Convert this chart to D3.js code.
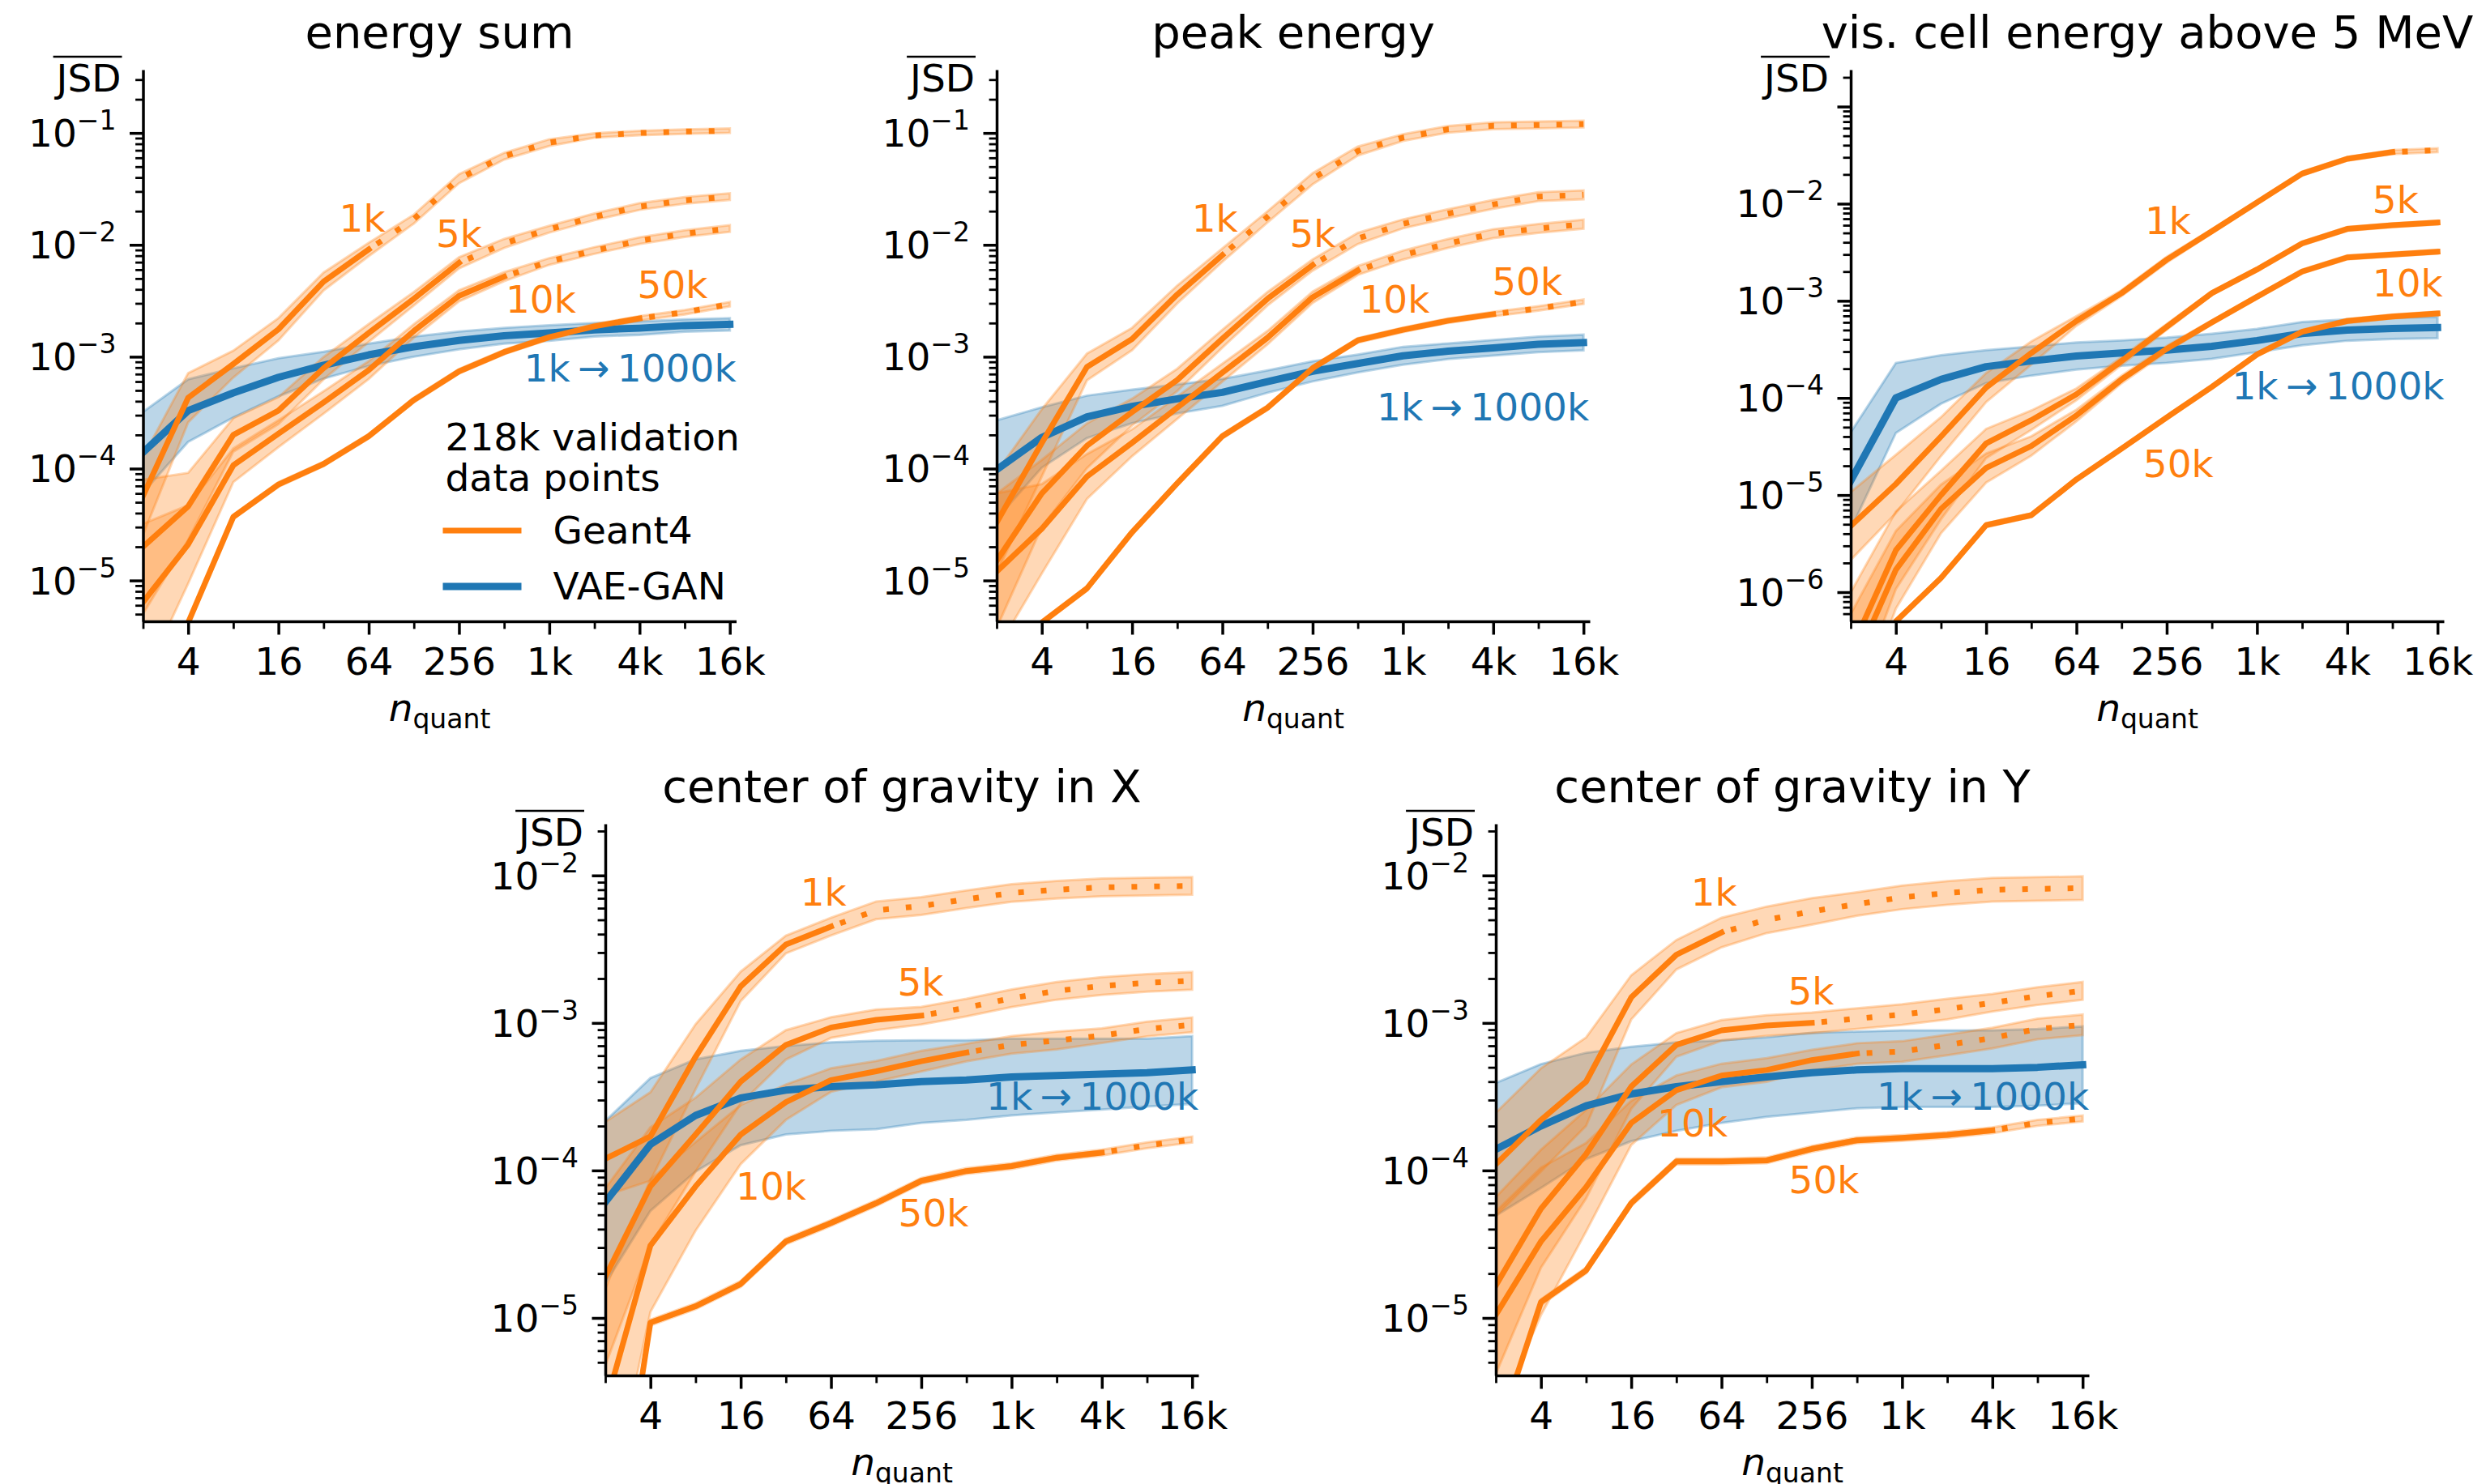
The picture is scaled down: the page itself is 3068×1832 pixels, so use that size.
<!DOCTYPE html>
<html>
<head>
<meta charset="utf-8">
<script src="https://cdn.jsdelivr.net/npm/d3@7"></script>
<style>
  body { margin: 0; background: #fff; }
  svg text { font-family: "DejaVu Sans", sans-serif; }
</style>
</head>
<body>
<script>
// n_quant values, shared by every panel
const nQuant = [2, 4, 8, 16, 32, 64, 128, 256, 512, 1024, 2048, 4096, 8192, 16384];
const xTickValues = [4, 16, 64, 256, 1024, 4096, 16384];
const xTickLabels = ["4", "16", "64", "256", "1k", "4k", "16k"];
const xMinorTicks = [2, 8, 32, 128, 512, 2048, 8192];
const sampleLabels = ["1k", "5k", "10k", "50k"];
const vaeLabel = "1k\u2009\u2192\u20091000k";
const panelTitles = ["energy sum", "peak energy", "vis. cell energy above 5 MeV",
  "center of gravity in X", "center of gravity in Y"];
const legendTitle = ["218k validation", "data points"];
const legendNames = ["Geant4", "VAE-GAN"];

// last n_quant drawn solid, per sample size (dotted beyond)
const solidUpTo = [64, 256, 512, 4096];
const solidUpToCell = [8192, 16384, 16384, 16384];

// y tick exponents (labelled decades)
const yTicksEnergy = [-5, -4, -3, -2, -1];
const yTicksCell = [-6, -5, -4, -3, -2];
const yTicksCog = [-5, -4, -3, -2];

// ---- energy sum : mean JSD and band half-width (decades)
const energySum1k = [5.7e-5, 4.3e-4, 8.6e-4, 1.76e-3, 4.7e-3, 9.1e-3, 1.7e-2, 3.9e-2, 6.2e-2, 8.2e-2, 9.5e-2, 0.100, 0.103, 0.105];
const energySum5k = [2.0e-5, 4.6e-5, 2.0e-4, 3.3e-4, 7.9e-4, 1.63e-3, 3.3e-3, 6.9e-3, 1.03e-2, 1.38e-2, 1.78e-2, 2.2e-2, 2.5e-2, 2.7e-2];
const energySum10k = [6.4e-6, 2.1e-5, 1.07e-4, 2.05e-4, 3.9e-4, 7.6e-4, 1.7e-3, 3.5e-3, 5.2e-3, 7.1e-3, 8.9e-3, 1.09e-2, 1.26e-2, 1.4e-2];
const energySum50k = [8e-7, 4.2e-6, 3.7e-5, 7.2e-5, 1.1e-4, 1.95e-4, 4.1e-4, 7.4e-4, 1.1e-3, 1.5e-3, 1.87e-3, 2.2e-3, 2.5e-3, 2.95e-3];
const energySumVae = [1.4e-4, 3.3e-4, 4.75e-4, 6.55e-4, 8.4e-4, 1.04e-3, 1.23e-3, 1.4e-3, 1.54e-3, 1.63e-3, 1.74e-3, 1.8e-3, 1.9e-3, 1.95e-3];
const energySum1kBand = [0.35, 0.22, 0.12, 0.1, 0.08, 0.06, 0.04, 0.04, 0.03, 0.03, 0.02, 0.02, 0.02, 0.02];
const energySum5kBand = [0.6, 0.3, 0.15, 0.12, 0.1, 0.08, 0.06, 0.05, 0.04, 0.03, 0.03, 0.03, 0.03, 0.03];
const energySum10kBand = [0.7, 0.35, 0.15, 0.12, 0.1, 0.08, 0.06, 0.05, 0.04, 0.03, 0.03, 0.03, 0.03, 0.03];
const energySum50kBand = [0.02, 0.02, 0.02, 0.02, 0.02, 0.02, 0.02, 0.02, 0.02, 0.02, 0.02, 0.02, 0.02, 0.02];
const energySumVaeBand = [0.36, 0.28, 0.22, 0.17, 0.12, 0.1, 0.09, 0.08, 0.07, 0.07, 0.06, 0.06, 0.055, 0.055];

// ---- peak energy
const peakEnergy1k = [3.3e-5, 1.7e-4, 8.1e-4, 1.44e-3, 3.6e-3, 8.1e-3, 1.78e-2, 3.9e-2, 6.9e-2, 9.1e-2, 0.108, 0.116, 0.118, 0.12];
const peakEnergy5k = [1.5e-5, 6.0e-5, 1.6e-4, 3.2e-4, 6.2e-4, 1.45e-3, 3.3e-3, 6.6e-3, 1.14e-2, 1.54e-2, 1.9e-2, 2.3e-2, 2.7e-2, 2.8e-2];
const peakEnergy10k = [1.2e-5, 2.9e-5, 8.5e-5, 1.7e-4, 3.5e-4, 7.2e-4, 1.48e-3, 3.4e-3, 5.9e-3, 8.1e-3, 1.03e-2, 1.26e-2, 1.4e-2, 1.53e-2];
const peakEnergy50k = [1e-6, 4.2e-6, 8.5e-6, 2.7e-5, 7.4e-5, 1.95e-4, 3.5e-4, 7.9e-4, 1.4e-3, 1.74e-3, 2.1e-3, 2.4e-3, 2.7e-3, 3.1e-3];
const peakEnergyVae = [9.8e-5, 1.9e-4, 2.9e-4, 3.6e-4, 4.2e-4, 4.8e-4, 6.0e-4, 7.4e-4, 8.7e-4, 1.02e-3, 1.12e-3, 1.2e-3, 1.29e-3, 1.34e-3];
const peakEnergy1kBand = [0.45, 0.3, 0.12, 0.1, 0.08, 0.06, 0.05, 0.05, 0.04, 0.03, 0.03, 0.03, 0.03, 0.03];
const peakEnergy5kBand = [0.6, 0.3, 0.2, 0.12, 0.1, 0.08, 0.06, 0.05, 0.05, 0.04, 0.04, 0.04, 0.04, 0.04];
const peakEnergy10kBand = [0.7, 0.4, 0.2, 0.12, 0.1, 0.08, 0.06, 0.05, 0.04, 0.04, 0.04, 0.04, 0.04, 0.04];
const peakEnergy50kBand = [0.02, 0.02, 0.02, 0.02, 0.02, 0.02, 0.02, 0.02, 0.02, 0.02, 0.02, 0.02, 0.02, 0.02];
const peakEnergyVaeBand = [0.44, 0.27, 0.19, 0.15, 0.13, 0.12, 0.1, 0.09, 0.08, 0.08, 0.07, 0.07, 0.07, 0.07];

// ---- visible cell energy above 5 MeV
const cellEnergy1k = [4.8e-6, 1.3e-5, 4.0e-5, 1.28e-4, 2.9e-4, 6.2e-4, 1.2e-3, 2.65e-3, 5.2e-3, 1.03e-2, 2.04e-2, 2.9e-2, 3.4e-2, 3.55e-2];
const cellEnergy5k = [2.5e-7, 2.7e-6, 1.0e-5, 3.4e-5, 5.9e-5, 1.09e-4, 2.4e-4, 5.4e-4, 1.2e-3, 2.1e-3, 3.9e-3, 5.5e-3, 6.0e-3, 6.4e-3];
const cellEnergy10k = [1.5e-7, 1.7e-6, 7.2e-6, 1.9e-5, 3.2e-5, 6.6e-5, 1.55e-4, 3.2e-4, 6.0e-4, 1.1e-3, 2.0e-3, 2.8e-3, 3.0e-3, 3.2e-3];
const cellEnergy50k = [1e-7, 5e-7, 1.4e-6, 4.9e-6, 6.2e-6, 1.45e-5, 3.0e-5, 6.3e-5, 1.3e-4, 2.8e-4, 4.8e-4, 6.2e-4, 6.9e-4, 7.4e-4];
const cellEnergyVae = [1.4e-5, 1.0e-4, 1.55e-4, 2.1e-4, 2.4e-4, 2.7e-4, 2.9e-4, 3.1e-4, 3.4e-4, 3.9e-4, 4.6e-4, 5.0e-4, 5.2e-4, 5.3e-4];
const cellEnergy1kBand = [0.35, 0.3, 0.2, 0.15, 0.12, 0.05, 0.03, 0.03, 0.02, 0.02, 0.02, 0.02, 0.02, 0.02];
const cellEnergy5kBand = [0.6, 0.4, 0.25, 0.15, 0.1, 0.06, 0.04, 0.03, 0.02, 0.02, 0.02, 0.02, 0.02, 0.02];
const cellEnergy10kBand = [0.6, 0.4, 0.25, 0.15, 0.1, 0.06, 0.04, 0.03, 0.02, 0.02, 0.02, 0.02, 0.02, 0.02];
const cellEnergy50kBand = [0.02, 0.02, 0.02, 0.02, 0.02, 0.02, 0.02, 0.02, 0.02, 0.02, 0.02, 0.02, 0.02, 0.02];
const cellEnergyVaeBand = [0.5, 0.36, 0.25, 0.17, 0.15, 0.14, 0.13, 0.13, 0.13, 0.12, 0.12, 0.11, 0.11, 0.11];

// ---- center of gravity in X
const cogX1k = [1.2e-4, 1.7e-4, 5.9e-4, 1.77e-3, 3.4e-3, 4.5e-3, 5.8e-3, 6.2e-3, 6.9e-3, 7.6e-3, 8.0e-3, 8.3e-3, 8.4e-3, 8.5e-3];
const cogX5k = [1.9e-5, 7.8e-5, 1.75e-4, 4.0e-4, 7.1e-4, 9.3e-4, 1.05e-3, 1.12e-3, 1.27e-3, 1.47e-3, 1.65e-3, 1.78e-3, 1.87e-3, 1.93e-3];
const cogX10k = [2.5e-6, 3.1e-5, 7.8e-5, 1.75e-4, 2.9e-4, 4.1e-4, 4.7e-4, 5.5e-4, 6.3e-4, 7.1e-4, 7.6e-4, 8.2e-4, 9.1e-4, 9.7e-4];
const cogX50k = [1e-7, 9.3e-6, 1.2e-5, 1.7e-5, 3.3e-5, 4.4e-5, 6.0e-5, 8.5e-5, 9.9e-5, 1.07e-4, 1.22e-4, 1.32e-4, 1.48e-4, 1.62e-4];
const cogXVae = [6.1e-5, 1.5e-4, 2.36e-4, 3.1e-4, 3.5e-4, 3.7e-4, 3.8e-4, 4.0e-4, 4.1e-4, 4.3e-4, 4.4e-4, 4.5e-4, 4.6e-4, 4.8e-4];
const cogX1kBand = [0.25, 0.3, 0.22, 0.1, 0.06, 0.06, 0.06, 0.06, 0.06, 0.06, 0.06, 0.06, 0.06, 0.06];
const cogX5kBand = [0.6, 0.4, 0.25, 0.15, 0.1, 0.07, 0.07, 0.06, 0.06, 0.06, 0.06, 0.06, 0.06, 0.06];
const cogX10kBand = [0.8, 0.45, 0.3, 0.2, 0.12, 0.08, 0.07, 0.07, 0.06, 0.06, 0.06, 0.05, 0.05, 0.05];
const cogX50kBand = [0.02, 0.02, 0.02, 0.02, 0.02, 0.02, 0.02, 0.02, 0.02, 0.02, 0.02, 0.02, 0.02, 0.02];
const cogXVaeBand = [0.55, 0.45, 0.38, 0.32, 0.3, 0.3, 0.3, 0.28, 0.27, 0.26, 0.25, 0.24, 0.23, 0.23];

// ---- center of gravity in Y
const cogY1k = [1.1e-4, 2.2e-4, 4.0e-4, 1.49e-3, 2.9e-3, 4.1e-3, 5.0e-3, 5.7e-3, 6.4e-3, 7.1e-3, 7.6e-3, 8.0e-3, 8.1e-3, 8.2e-3];
const cogY5k = [1.66e-5, 5.5e-5, 1.29e-4, 3.7e-4, 7.1e-4, 8.9e-4, 9.6e-4, 1.0e-3, 1.07e-3, 1.14e-3, 1.24e-3, 1.37e-3, 1.52e-3, 1.65e-3];
const cogY10k = [1.05e-5, 3.3e-5, 7.7e-5, 2.1e-4, 3.5e-4, 4.4e-4, 4.8e-4, 5.6e-4, 6.2e-4, 6.4e-4, 7.1e-4, 7.9e-4, 9.1e-4, 9.7e-4];
const cogY50k = [1.5e-6, 1.28e-5, 2.1e-5, 6.0e-5, 1.15e-4, 1.15e-4, 1.17e-4, 1.4e-4, 1.6e-4, 1.66e-4, 1.74e-4, 1.87e-4, 2.1e-4, 2.25e-4];
const cogYVae = [1.39e-4, 2.0e-4, 2.74e-4, 3.3e-4, 3.7e-4, 4.0e-4, 4.3e-4, 4.6e-4, 4.8e-4, 4.9e-4, 4.9e-4, 4.9e-4, 5.0e-4, 5.2e-4];
const cogY1kBand = [0.35, 0.35, 0.3, 0.15, 0.1, 0.1, 0.09, 0.09, 0.08, 0.08, 0.08, 0.08, 0.08, 0.08];
const cogY5kBand = [0.6, 0.4, 0.3, 0.15, 0.08, 0.07, 0.07, 0.07, 0.07, 0.07, 0.07, 0.06, 0.06, 0.06];
const cogY10kBand = [0.7, 0.5, 0.3, 0.15, 0.1, 0.08, 0.08, 0.07, 0.07, 0.07, 0.07, 0.07, 0.07, 0.07];
const cogY50kBand = [0.02, 0.02, 0.02, 0.02, 0.02, 0.02, 0.02, 0.02, 0.02, 0.02, 0.02, 0.02, 0.02, 0.02];
const cogYVaeBand = [0.45, 0.42, 0.36, 0.32, 0.3, 0.28, 0.27, 0.27, 0.26, 0.26, 0.26, 0.26, 0.26, 0.26];

// ---------------------------------------------------------------- layout
const orange = "#ff7f0e", blue = "#1f77b4";
const plotW = 732, plotH = 681;
const xMax = Math.pow(2, 14.14);
const fs = 47, titleFs = 56, subFs = 33;

const panels = [
  { title: panelTitles[0], left: 176.5, top: 86, yExp: [-5.365, -0.434], yTicks: yTicksEnergy,
    geant: [energySum1k, energySum5k, energySum10k, energySum50k],
    bands: [energySum1kBand, energySum5kBand, energySum10kBand, energySum50kBand],
    vae: energySumVae, vaeBand: energySumVaeBand, solid: solidUpTo, legend: true,
    labelAt: [[58, 0.0174], [256, 0.0126], [900, 3.3e-3], [6800, 4.4e-3]], vaeAt: [3540, 7.9e-4] },
  { title: panelTitles[1], left: 1230, top: 86, yExp: [-5.365, -0.434], yTicks: yTicksEnergy,
    geant: [peakEnergy1k, peakEnergy5k, peakEnergy10k, peakEnergy50k],
    bands: [peakEnergy1kBand, peakEnergy5kBand, peakEnergy10kBand, peakEnergy50kBand],
    vae: peakEnergyVae, vaeBand: peakEnergyVaeBand, solid: solidUpTo,
    labelAt: [[57, 0.0174], [256, 0.0126], [900, 3.3e-3], [6900, 4.7e-3]], vaeAt: [3500, 3.6e-4] },
  { title: panelTitles[2], left: 2284, top: 86, yExp: [-6.30, -0.62], yTicks: yTicksCell,
    geant: [cellEnergy1k, cellEnergy5k, cellEnergy10k, cellEnergy50k],
    bands: [cellEnergy1kBand, cellEnergy5kBand, cellEnergy10kBand, cellEnergy50kBand],
    vae: cellEnergyVae, vaeBand: cellEnergyVaeBand, solid: solidUpToCell,
    labelAt: [[261, 6.7e-3], [8600, 0.011], [10350, 1.54e-3], [306, 2.1e-5]], vaeAt: [3560, 1.35e-4] },
  { title: panelTitles[3], left: 747, top: 1017, yExp: [-5.39, -1.65], yTicks: yTicksCog,
    geant: [cogX1k, cogX5k, cogX10k, cogX50k],
    bands: [cogX1kBand, cogX5kBand, cogX10kBand, cogX50kBand],
    vae: cogXVae, vaeBand: cogXVaeBand, solid: solidUpTo,
    labelAt: [[57, 7.7e-3], [253, 1.9e-3], [25.5, 7.8e-5], [309, 5.2e-5]], vaeAt: [3540, 3.2e-4] },
  { title: panelTitles[4], left: 1846, top: 1017, yExp: [-5.39, -1.65], yTicks: yTicksCog,
    geant: [cogY1k, cogY5k, cogY10k, cogY50k],
    bands: [cogY1kBand, cogY5kBand, cogY10kBand, cogY50kBand],
    vae: cogYVae, vaeBand: cogYVaeBand, solid: solidUpTo,
    labelAt: [[57, 7.7e-3], [253, 1.66e-3], [41, 2.1e-4], [309, 8.7e-5]], vaeAt: [3540, 3.2e-4] }
];

const svg = d3.select("body").append("svg")
  .attr("width", 3068)
  .attr("height", 1832);

panels.forEach((p, pi) => {
  const g = svg.append("g").attr("transform", "translate(" + p.left + "," + p.top + ")");

  const x = d3.scaleLog().base(2).domain([2, xMax]).range([0, plotW]);
  const y = d3.scaleLog().domain([Math.pow(10, p.yExp[0]), Math.pow(10, p.yExp[1])]).range([plotH, 0]);

  g.append("clipPath").attr("id", "clip" + pi)
    .append("rect").attr("width", plotW).attr("height", plotH);
  const plot = g.append("g").attr("clip-path", "url(#clip" + pi + ")");

  const series = [{ m: p.vae, s: p.vaeBand, color: blue, lw: 9, cut: 16384 }];
  p.geant.forEach((m, i) => series.push({ m: m, s: p.bands[i], color: orange, lw: 7, cut: p.solid[i] }));

  const pts = d => nQuant.map((n, i) => ({ n: n, v: d.m[i], lo: d.m[i] / Math.pow(10, d.s[i]), hi: d.m[i] * Math.pow(10, d.s[i]) }));

  const area = d3.area()
    .x(d => x(d.n))
    .y0(d => y(d.lo))
    .y1(d => y(d.hi));
  const line = d3.line()
    .x(d => x(d.n))
    .y(d => y(d.v));

  // bands
  series.forEach(d => {
    plot.append("path")
      .datum(pts(d))
      .attr("d", area)
      .attr("fill", d.color)
      .attr("fill-opacity", 0.3)
      .attr("stroke", d.color)
      .attr("stroke-opacity", 0.3)
      .attr("stroke-width", 3);
  });

  // lines: solid part then dotted continuation
  series.forEach(d => {
    const all = pts(d);
    plot.append("path")
      .datum(all.filter(q => q.n <= d.cut))
      .attr("d", line)
      .attr("fill", "none")
      .attr("stroke", d.color)
      .attr("stroke-width", d.lw)
      .attr("stroke-linejoin", "round")
      .attr("stroke-linecap", "square");
    const rest = all.filter(q => q.n >= d.cut);
    if (rest.length > 1) {
      plot.append("path")
        .datum(rest)
        .attr("d", line)
        .attr("fill", "none")
        .attr("stroke", d.color)
        .attr("stroke-width", d.lw)
        .attr("stroke-dasharray", "7 21")
        .attr("stroke-dashoffset", -12);
    }
  });

  // annotations
  p.labelAt.forEach((a, i) => {
    g.append("text")
      .attr("x", x(a[0])).attr("y", y(a[1])).attr("dy", "0.36em")
      .attr("text-anchor", "middle")
      .attr("font-size", fs)
      .attr("fill", orange)
      .text(sampleLabels[i]);
  });
  g.append("text")
    .attr("x", x(p.vaeAt[0])).attr("y", y(p.vaeAt[1])).attr("dy", "0.36em")
    .attr("text-anchor", "middle")
    .attr("font-size", fs)
    .attr("fill", blue)
    .text(vaeLabel);

  // x axis
  const xAxisG = g.append("g").attr("transform", "translate(0," + plotH + ")");
  xAxisG.append("g")
    .call(d3.axisBottom(x).tickValues(xMinorTicks).tickSize(9.4).tickSizeOuter(0).tickFormat(""))
    .call(a => a.select(".domain").remove())
    .selectAll("line").attr("stroke-width", 2.8);
  xAxisG.append("g")
    .call(d3.axisBottom(x).tickValues(xTickValues).tickSize(16.5).tickPadding(16.5).tickSizeOuter(0)
      .tickFormat((t, i) => xTickLabels[i]))
    .call(a => a.select(".domain").attr("stroke-width", 3.5))
    .call(a => a.selectAll("line").attr("stroke-width", 3.5))
    .call(a => a.selectAll("text").attr("font-size", fs).attr("font-family", "DejaVu Sans"));

  // y axis
  const minor = [];
  for (let e = Math.floor(p.yExp[0]); e <= Math.ceil(p.yExp[1]); e++) {
    for (let k = 2; k <= 9; k++) {
      const v = k * Math.pow(10, e);
      if (Math.log10(v) >= p.yExp[0] && Math.log10(v) <= p.yExp[1]) minor.push(v);
    }
  }
  const major = [];
  for (let e = Math.ceil(p.yExp[0]); e <= Math.floor(p.yExp[1]); e++) major.push(Math.pow(10, e));

  const yAxisG = g.append("g");
  yAxisG.append("g")
    .call(d3.axisLeft(y).tickValues(minor).tickSize(9.4).tickSizeOuter(0).tickFormat(""))
    .call(a => a.select(".domain").remove())
    .selectAll("line").attr("stroke-width", 2.8);
  yAxisG.append("g")
    .call(d3.axisLeft(y).tickValues(major).tickSize(16.5).tickPadding(16.5).tickSizeOuter(0).tickFormat(""))
    .call(a => a.select(".domain").attr("stroke-width", 3.5))
    .call(a => a.selectAll("line").attr("stroke-width", 3.5));

  p.yTicks.forEach(e => {
    const t = yAxisG.append("text")
      .attr("x", -33).attr("y", y(Math.pow(10, e)) + 17)
      .attr("text-anchor", "end")
      .attr("font-size", fs)
      .attr("fill", "#000");
    t.append("tspan").text("10");
    t.append("tspan").attr("font-size", subFs).attr("dy", -21).text("\u2212" + (-e));
  });

  // JSD label with overline
  const jsd = g.append("text")
    .attr("x", -27).attr("y", 27)
    .attr("text-anchor", "end")
    .attr("font-size", fs)
    .text("JSD");
  const bb = jsd.node().getBBox();
  g.append("line")
    .attr("x1", bb.x - 1).attr("x2", bb.x + bb.width + 1)
    .attr("y1", -16).attr("y2", -16)
    .attr("stroke", "#000").attr("stroke-width", 2.5);

  // x label n_quant
  const xl = g.append("text")
    .attr("x", plotW / 2).attr("y", plotH + 123)
    .attr("text-anchor", "middle")
    .attr("font-size", fs);
  xl.append("tspan").attr("font-style", "italic").text("n");
  xl.append("tspan").attr("font-size", subFs).attr("dy", 9).text("quant");

  // title
  g.append("text")
    .attr("x", plotW / 2).attr("y", -27)
    .attr("text-anchor", "middle")
    .attr("font-size", titleFs)
    .text(p.title);

  // legend
  if (p.legend) {
    const lg = g.append("g");
    legendTitle.forEach((t, i) => {
      lg.append("text").attr("x", 373).attr("y", 470 + i * 50).attr("font-size", fs).text(t);
    });
    [orange, blue].forEach((c, i) => {
      const ly = 569 + i * 69;
      lg.append("line").attr("x1", 370).attr("x2", 467).attr("y1", ly).attr("y2", ly)
        .attr("stroke", c).attr("stroke-width", i ? 9 : 7);
      lg.append("text").attr("x", 506).attr("y", ly + 16).attr("font-size", fs).text(legendNames[i]);
    });
  }
});
</script>
</body>
</html>
